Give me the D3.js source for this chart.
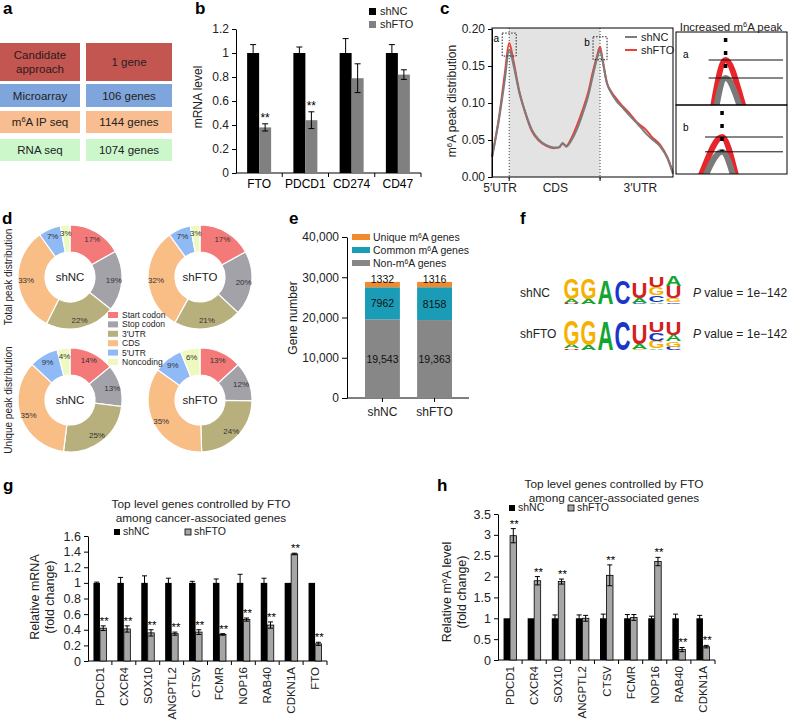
<!DOCTYPE html>
<html>
<head>
<meta charset="utf-8">
<script src="https://cdn.jsdelivr.net/npm/d3@7"></script>
<style>
body { margin: 0; background: #fff; }
svg { font-family: "Liberation Sans", Arial, Helvetica, sans-serif; }
</style>
</head>
<body>
<svg id="fig" width="788" height="722"></svg>
<script>
// ---- data ----
// panel a
const aMethods = ["Candidate approach", "Microarray", "m^6A IP seq", "RNA seq"];
const aCounts = ["1 gene", "106 genes", "1144 genes", "1074 genes"];
const aColors = ["#c45652", "#7ea5dc", "#f8bd90", "#cbf7cb"];

// panel b
const bGenes = ["FTO", "PDCD1", "CD274", "CD47"];
const bNC = [1, 1, 1, 1];
const bNCerr = [0.07, 0.05, 0.12, 0.07];
const bFTO = [0.38, 0.44, 0.79, 0.82];
const bFTOerr = [0.03, 0.07, 0.12, 0.04];
const bSig = ["**", "**", "", ""];

// panel c (metagene position in % of plotted width)
const cPos = [0, 4, 7, 9.5, 12, 15, 18, 22, 26, 30, 34, 37, 39, 41, 44, 47, 50, 53, 56, 58, 59.7, 61, 63.5, 66, 69, 72, 76, 80, 85, 88, 93, 97, 100];
const cNC = [0.027, 0.08, 0.13, 0.172, 0.15, 0.115, 0.09, 0.064, 0.05, 0.043, 0.04, 0.04, 0.046, 0.041, 0.05, 0.065, 0.085, 0.108, 0.14, 0.16, 0.172, 0.158, 0.127, 0.113, 0.102, 0.094, 0.083, 0.073, 0.059, 0.052, 0.041, 0.025, 0.004];
const cFTO = [0.027, 0.083, 0.138, 0.181, 0.155, 0.117, 0.09, 0.062, 0.049, 0.042, 0.039, 0.04, 0.045, 0.042, 0.053, 0.07, 0.09, 0.113, 0.145, 0.163, 0.176, 0.16, 0.127, 0.115, 0.105, 0.096, 0.086, 0.074, 0.064, 0.055, 0.043, 0.026, 0.006];
const cMarks = [9.5, 59.7];
const cRegions = ["5′UTR", "CDS", "3′UTR"];
const cRegionPos = [4.5, 35, 82];

// panel d
const dCats = ["Start codon", "Stop codon", "3′UTR", "CDS", "5′UTR", "Noncoding"];
const dColors = ["#f47a7a", "#a2a2a8", "#b8b07c", "#f9bd86", "#8fbaf5", "#eef9c0"];
const dTotalNC = [17, 19, 22, 33, 7, 3];
const dTotalFTO = [17, 20, 21, 32, 7, 3];
const dUniqueNC = [14, 13, 25, 35, 9, 4];
const dUniqueFTO = [13, 12, 24, 35, 9, 6];

// panel e
const eGroups = ["shNC", "shFTO"];
const eNon = [19543, 19363];
const eCommon = [7962, 8158];
const eUnique = [1332, 1316];
const eSeries = ["Unique m^6A genes", "Common m^6A genes", "Non-m^6A genes"];
const eColors = ["#f08a2c", "#1b9cb6", "#878787"];

// panel f: logo stacks, bottom to top, [letter, bits]
const fNC = [
  [["U", 0.05], ["A", 0.28], ["G", 1.4]],
  [["A", 0.3], ["G", 1.4]],
  [["A", 1.55]],
  [["C", 1.55]],
  [["C", 0.05], ["A", 0.33], ["U", 1.05]],
  [["A", 0.1], ["C", 0.45], ["G", 0.55], ["U", 0.67]],
  [["C", 0.1], ["G", 0.27], ["U", 0.78], ["A", 0.67]]
];
const fFTO = [
  [["U", 0.1], ["A", 0.25], ["G", 1.65]],
  [["A", 0.3], ["G", 1.65]],
  [["A", 1.85]],
  [["C", 1.85]],
  [["G", 0.05], ["A", 0.33], ["U", 1.3]],
  [["A", 0.1], ["G", 0.5], ["C", 0.55], ["U", 0.67]],
  [["C", 0.22], ["G", 0.33], ["A", 0.45], ["U", 0.87]]
];
const logoColors = { A: "#13a532", C: "#1a36c8", G: "#f6b100", U: "#d41f1f" };

// panel g
const gGenes = ["PDCD1", "CXCR4", "SOX10", "ANGPTL2", "CTSV", "FCMR", "NOP16", "RAB40", "CDKN1A", "FTO"];
const gNC = [1, 1, 1, 1, 1, 1, 1, 1, 1, 1];
const gNCerr = [0.01, 0.07, 0.09, 0.06, 0.02, 0.05, 0.11, 0.06, 0, 0];
const gFTO = [0.42, 0.41, 0.36, 0.35, 0.37, 0.34, 0.53, 0.46, 1.37, 0.22];
const gFTOerr = [0.03, 0.04, 0.04, 0.02, 0.03, 0.01, 0.02, 0.04, 0.01, 0.02];
const gSig = ["**", "**", "**", "**", "**", "**", "**", "**", "**", "**"];

// panel h
const hGenes = ["PDCD1", "CXCR4", "SOX10", "ANGPTL2", "CTSV", "FCMR", "NOP16", "RAB40", "CDKN1A"];
const hNC = [1, 1, 1, 1, 1, 1, 1, 1, 1];
const hNCerr = [0, 0, 0.08, 0.08, 0.1, 0.09, 0.05, 0.1, 0.07];
const hFTO = [2.98, 1.9, 1.88, 1.0, 2.03, 1.02, 2.36, 0.25, 0.32];
const hFTOerr = [0.17, 0.1, 0.06, 0.07, 0.25, 0.07, 0.1, 0.05, 0.03];
const hSig = ["**", "**", "**", "", "**", "", "**", "**", "**"];

// ---- drawing ----
const svg = d3.select("#fig");

function panelLabel(t, x, y) {
    svg.append("text").attr("x", x).attr("y", y)
        .attr("font-size", 17).attr("font-weight", "bold").text(t);
}

// "^6" becomes a superscript 6
function richText(sel, str) {
    str.split(/(\^6)/).forEach(p => {
        if (p === "^6") sel.append("tspan").attr("baseline-shift", "super").attr("font-size", "65%").text("6");
        else if (p) sel.append("tspan").text(p);
    });
    return sel;
}

function styleAxis(g, fs) {
    g.attr("font-family", null).attr("font-size", fs);
    g.selectAll("text").attr("fill", "#222");
}

// ===== panel a =====
panelLabel("a", 3, 14);
const aTops = [43, 84, 111, 139];
const aHeights = [38, 23, 22, 22];
aMethods.forEach((m, i) => {
    svg.append("rect").attr("x", 0).attr("y", aTops[i]).attr("width", 80).attr("height", aHeights[i]).attr("fill", aColors[i]);
    svg.append("rect").attr("x", 86).attr("y", aTops[i]).attr("width", 86).attr("height", aHeights[i]).attr("fill", aColors[i]);
    const cy = aTops[i] + aHeights[i] / 2;
    if (i === 0) {
        m.split(" ").forEach((w, j) => {
            svg.append("text").attr("x", 40).attr("y", cy - 3 + j * 14).attr("text-anchor", "middle")
                .attr("font-size", 11.5).attr("fill", "#2a1a1a").text(w);
        });
    } else {
        richText(svg.append("text").attr("x", 40).attr("y", cy + 4).attr("text-anchor", "middle")
            .attr("font-size", 11.5).attr("fill", "#222"), m);
    }
    svg.append("text").attr("x", 129).attr("y", cy + 4).attr("text-anchor", "middle")
        .attr("font-size", 11.5).attr("fill", "#222").text(aCounts[i]);
});

// ===== panel b =====
panelLabel("b", 195, 14);
{
    const x = d3.scaleBand().domain(bGenes).range([236, 421]);
    const y = d3.scaleLinear().domain([0, 1.2]).range([173, 29]);
    const bw = 12;
    const ya = svg.append("g").attr("transform", "translate(236,0)")
        .call(d3.axisLeft(y).tickValues([0, 0.2, 0.4, 0.6, 0.8, 1, 1.2]).tickFormat(d3.format("~g")).tickSize(4).tickSizeOuter(0));
    styleAxis(ya, 12);
    svg.append("line").attr("x1", 236).attr("x2", 421).attr("y1", y(0)).attr("y2", y(0)).attr("stroke", "#000");
    bGenes.forEach((gname, i) => {
        const c = x(gname) + x.bandwidth() / 2;
        svg.append("line").attr("x1", x(gname) + x.bandwidth()).attr("x2", x(gname) + x.bandwidth())
            .attr("y1", y(0)).attr("y2", y(0) + 4).attr("stroke", "#000");
        svg.append("rect").attr("x", c - bw).attr("y", y(bNC[i])).attr("width", bw).attr("height", y(0) - y(bNC[i])).attr("fill", "#000");
        svg.append("rect").attr("x", c).attr("y", y(bFTO[i])).attr("width", bw).attr("height", y(0) - y(bFTO[i])).attr("fill", "#808080");
        [[c - bw / 2, bNC[i], bNCerr[i]], [c + bw / 2, bFTO[i], bFTOerr[i]]].forEach(([cx, v, e]) => {
            svg.append("line").attr("x1", cx).attr("x2", cx).attr("y1", y(v - e)).attr("y2", y(v + e)).attr("stroke", "#000");
            svg.append("line").attr("x1", cx - 3).attr("x2", cx + 3).attr("y1", y(v + e)).attr("y2", y(v + e)).attr("stroke", "#000");
            svg.append("line").attr("x1", cx - 3).attr("x2", cx + 3).attr("y1", y(v - e)).attr("y2", y(v - e)).attr("stroke", "#000");
        });
        if (bSig[i]) svg.append("text").attr("x", c + bw / 2).attr("y", y(bFTO[i] + bFTOerr[i]) - 2)
            .attr("text-anchor", "middle").attr("font-size", 12).text(bSig[i]);
        svg.append("text").attr("x", c).attr("y", 188).attr("text-anchor", "middle").attr("font-size", 12).text(gname);
    });
    svg.append("text").attr("transform", "translate(202,97) rotate(-90)").attr("text-anchor", "middle")
        .attr("font-size", 12).attr("fill", "#222").text("mRNA level");
    [["shNC", "#000"], ["shFTO", "#808080"]].forEach(([t, col], i) => {
        svg.append("rect").attr("x", 369).attr("y", 8 + i * 13).attr("width", 7).attr("height", 7).attr("fill", col);
        svg.append("text").attr("x", 380).attr("y", 15 + i * 13).attr("font-size", 11).attr("fill", "#222").text(t);
    });
}

// ===== panel c =====
panelLabel("c", 440, 14);
{
    const x = d3.scaleLinear().domain([0, 100]).range([492, 673]);
    const y = d3.scaleLinear().domain([0, 0.2]).range([177, 29]);
    svg.append("rect").attr("x", x(cMarks[0])).attr("y", 28).attr("width", x(cMarks[1]) - x(cMarks[0]))
        .attr("height", y(0) - 28).attr("fill", "#e3e3e3");
    cMarks.forEach(m => {
        svg.append("line").attr("x1", x(m)).attr("x2", x(m)).attr("y1", 28).attr("y2", y(0) + 4)
            .attr("stroke", "#444").attr("stroke-dasharray", "1,2");
        svg.append("line").attr("x1", x(m)).attr("x2", x(m)).attr("y1", y(0)).attr("y2", y(0) + 4).attr("stroke", "#000");
    });
    const line = (vals, xs, ys) => d3.line().curve(d3.curveMonotoneX).x((d, i) => xs(cPos[i])).y(d => ys(d))(vals);
    svg.append("path").attr("d", line(cFTO, x, y)).attr("fill", "none").attr("stroke", "#e8423a").attr("stroke-width", 2);
    svg.append("path").attr("d", line(cNC, x, y)).attr("fill", "none").attr("stroke", "#7c7c7c").attr("stroke-width", 2);
    svg.append("rect").attr("x", 492).attr("y", 28).attr("width", 181).attr("height", y(0) - 28)
        .attr("fill", "none").attr("stroke", "#000");
    const ya = svg.append("g").attr("transform", "translate(492,0)")
        .call(d3.axisLeft(y).tickValues([0, 0.05, 0.1, 0.15, 0.2]).tickFormat(d3.format(".2f")).tickSize(4).tickSizeOuter(0));
    styleAxis(ya, 12);
    cRegions.forEach((r, i) => {
        svg.append("text").attr("x", x(cRegionPos[i])).attr("y", 192).attr("text-anchor", "middle")
            .attr("font-size", 12).attr("fill", "#222").text(r);
    });
    richText(svg.append("text").attr("transform", "translate(456,101) rotate(-90)").attr("text-anchor", "middle")
        .attr("font-size", 12).attr("fill", "#222"), "m^6A peak distribution");
    // dotted boxes around peaks
    [["a", cMarks[0], d3.max(cFTO.slice(0, 8))], ["b", cMarks[1], d3.max(cFTO.slice(15))]].forEach(([lab, m, v]) => {
        svg.append("rect").attr("x", x(m) - 7).attr("y", y(v) - 10).attr("width", 14).attr("height", 23)
            .attr("fill", "none").attr("stroke", "#222").attr("stroke-dasharray", "1.5,1.5");
        svg.append("text").attr("x", x(m) - 13).attr("y", y(v) - 1).attr("text-anchor", "middle").attr("font-size", 10).text(lab);
    });
    [["shNC", "#7c7c7c"], ["shFTO", "#e8423a"]].forEach(([t, col], i) => {
        svg.append("line").attr("x1", 625).attr("x2", 637).attr("y1", 37 + i * 13).attr("y2", 37 + i * 13)
            .attr("stroke", col).attr("stroke-width", 2);
        svg.append("text").attr("x", 641).attr("y", 41 + i * 13).attr("font-size", 11).attr("fill", "#222").text(t);
    });

    // inset zooms
    richText(svg.append("text").attr("x", 731).attr("y", 31).attr("text-anchor", "middle")
        .attr("font-size", 11.5).attr("fill", "#222"), "Increased m^6A peak");
    const insets = [
        { lab: "a", top: 32, h: 73, xd: [3.2, 17.3], yd: [0.1585, 0.181], ytop: 60, peak: cMarks[0], lo: 0, hi: 12 },
        { lab: "b", top: 105, h: 69, xd: [56.63, 64.03], yd: [0.166, 0.176], ytop: 137, peak: cMarks[1], lo: 13, hi: 33 }
    ];
    const defs = svg.append("defs");
    insets.forEach((ins, k) => {
        const xs = d3.scaleLinear().domain(ins.xd).range([676, 787]);
        const ys = d3.scaleLinear().domain(ins.yd).range([ins.top + ins.h, ins.ytop]);
        defs.append("clipPath").attr("id", "clip" + k).append("rect")
            .attr("x", 676).attr("y", ins.top).attr("width", 111).attr("height", ins.h);
        const gi = svg.append("g").attr("clip-path", `url(#clip${k})`);
        gi.append("path").attr("d", line(cFTO, xs, ys)).attr("fill", "none").attr("stroke", "#e8252a").attr("stroke-width", 6);
        gi.append("path").attr("d", line(cNC, xs, ys)).attr("fill", "none").attr("stroke", "#7a7a7a").attr("stroke-width", 6);
        const maxR = d3.max(cFTO.slice(ins.lo, ins.hi)), maxG = d3.max(cNC.slice(ins.lo, ins.hi));
        [maxR, maxG].forEach(v => {
            gi.append("line").attr("x1", xs(ins.peak) - 17).attr("x2", 783).attr("y1", ys(v)).attr("y2", ys(v))
                .attr("stroke", "#111").attr("stroke-width", 1);
        });
        gi.append("line").attr("x1", xs(ins.peak)).attr("x2", xs(ins.peak)).attr("y1", ins.top + 6).attr("y2", ys(maxR) + 14)
            .attr("stroke", "#000").attr("stroke-width", 3.5).attr("stroke-dasharray", "4,9");
        svg.append("rect").attr("x", 676).attr("y", ins.top).attr("width", 111).attr("height", ins.h)
            .attr("fill", "none").attr("stroke", "#000");
        svg.append("text").attr("x", 683).attr("y", ins.top + 26).attr("font-size", 10).text(ins.lab);
    });
}

// ===== panel d =====
panelLabel("d", 2, 224);
{
    const pie = d3.pie().sort(null).value(d => d);
    const arc = d3.arc().innerRadius(25).outerRadius(52);
    const labelArc = d3.arc().innerRadius(44).outerRadius(44);
    const donuts = [
        [dTotalNC, 70, 277, "shNC"], [dTotalFTO, 200, 277, "shFTO"],
        [dUniqueNC, 70, 400, "shNC"], [dUniqueFTO, 200, 400, "shFTO"]
    ];
    donuts.forEach(([vals, cx, cy, name]) => {
        const g = svg.append("g").attr("transform", `translate(${cx},${cy})`);
        g.selectAll("path").data(pie(vals)).join("path").attr("d", arc)
            .attr("fill", (d, i) => dColors[i]).attr("stroke", "#fff").attr("stroke-width", 1.2);
        g.selectAll("text.pct").data(pie(vals)).join("text").attr("class", "pct")
            .attr("transform", d => `translate(${labelArc.centroid(d)})`).attr("dy", "0.35em")
            .attr("text-anchor", "middle").attr("font-size", 8).attr("fill", "#333").text(d => d.data + "%");
        g.append("text").attr("dy", "0.35em").attr("text-anchor", "middle").attr("font-size", 11.5).attr("fill", "#222").text(name);
    });
    svg.append("text").attr("transform", "translate(12,277) rotate(-90)").attr("text-anchor", "middle")
        .attr("font-size", 10).attr("fill", "#222").text("Total peak distribution");
    svg.append("text").attr("transform", "translate(12,400) rotate(-90)").attr("text-anchor", "middle")
        .attr("font-size", 10).attr("fill", "#222").text("Unique peak distribution");
    dCats.forEach((c, i) => {
        svg.append("rect").attr("x", 108).attr("y", 312 + i * 9.4).attr("width", 10).attr("height", 6).attr("fill", dColors[i]);
        svg.append("text").attr("x", 122).attr("y", 318 + i * 9.4).attr("font-size", 8.5).attr("fill", "#222").text(c);
    });
}

// ===== panel e =====
panelLabel("e", 289, 224);
{
    const x = d3.scaleBand().domain(eGroups).range([365, 452]).paddingInner(0.33);
    const y = d3.scaleLinear().domain([0, 40000]).range([398, 237]);
    const ya = svg.append("g").attr("transform", "translate(347,0)")
        .call(d3.axisLeft(y).tickValues([0, 10000, 20000, 30000, 40000]).tickFormat(d3.format(",")).tickSize(5).tickSizeOuter(0));
    styleAxis(ya, 12);
    svg.append("line").attr("x1", 347).attr("x2", 469).attr("y1", y(0)).attr("y2", y(0)).attr("stroke", "#000");
    eGroups.forEach((gname, i) => {
        const x0 = x(gname), w = x.bandwidth(), c = x0 + w / 2;
        const segs = [eNon[i], eCommon[i], eUnique[i]];
        const cols = [eColors[2], eColors[1], eColors[0]];
        let base = 0;
        segs.forEach((v, k) => {
            svg.append("rect").attr("x", x0).attr("y", y(base + v)).attr("width", w).attr("height", y(base) - y(base + v)).attr("fill", cols[k]);
            const ty = k < 2 ? (y(base) + y(base + v)) / 2 + 4 : y(base + v) + 1;
            svg.append("text").attr("x", c).attr("y", ty).attr("text-anchor", "middle").attr("font-size", 10.5)
                .attr("fill", "#111").text(k === 0 ? d3.format(",")(v) : v);
            base += v;
        });
        svg.append("line").attr("x1", c).attr("x2", c).attr("y1", y(0)).attr("y2", y(0) + 4).attr("stroke", "#000");
        svg.append("text").attr("x", c).attr("y", 416).attr("text-anchor", "middle").attr("font-size", 12).attr("fill", "#222").text(gname);
    });
    svg.append("text").attr("transform", "translate(297,318) rotate(-90)").attr("text-anchor", "middle")
        .attr("font-size", 12).attr("fill", "#222").text("Gene number");
    eSeries.forEach((s, i) => {
        svg.append("rect").attr("x", 352).attr("y", 234 + i * 13).attr("width", 18).attr("height", 6).attr("fill", eColors[i]);
        richText(svg.append("text").attr("x", 373).attr("y", 241 + i * 13).attr("font-size", 10.5).attr("fill", "#222"), s);
    });
}

// ===== panel f =====
panelLabel("f", 520, 224);
{
    const xl = d3.scaleBand().domain(d3.range(7)).range([563, 682]);
    const hl = d3.scaleLinear().domain([0, 2]).range([0, 31]);
    function drawLogo(stacks, yBase) {
        stacks.forEach((stack, i) => {
            let yb = yBase;
            stack.forEach(([letter, bits]) => {
                const h = hl(bits);
                svg.append("text").attr("x", xl(i) + 0.5).attr("y", yb)
                    .attr("font-size", h / 0.72).attr("font-weight", "bold")
                    .attr("textLength", xl.bandwidth() - 1).attr("lengthAdjust", "spacingAndGlyphs")
                    .attr("fill", logoColors[letter]).text(letter);
                yb -= h;
            });
        });
    }
    drawLogo(fNC, 304);
    drawLogo(fFTO, 350);
    [["shNC", 297], ["shFTO", 338]].forEach(([t, yy]) => {
        svg.append("text").attr("x", 520).attr("y", yy).attr("font-size", 12).attr("fill", "#222").text(t);
        const pt = svg.append("text").attr("x", 693).attr("y", yy).attr("font-size", 12).attr("fill", "#222");
        pt.append("tspan").attr("font-style", "italic").text("P");
        pt.append("tspan").text(" value = 1e\u2212142");
    });
}

// ===== panels g and h =====
function groupedPanel(o) {
    const x = d3.scaleBand().domain(o.genes).range(o.xr);
    const y = d3.scaleLinear().domain(o.yd).range(o.yr);
    const bw = 6.5;
    const ya = svg.append("g").attr("transform", `translate(${o.xr[0]},0)`)
        .call(d3.axisLeft(y).tickValues(o.ticks).tickFormat(d3.format("~g")).tickSize(4).tickSizeOuter(0));
    styleAxis(ya, 12.5);
    svg.append("line").attr("x1", o.xr[0]).attr("x2", o.xr[1]).attr("y1", y(0)).attr("y2", y(0)).attr("stroke", "#000");
    o.genes.forEach((gname, i) => {
        const c = x(gname) + x.bandwidth() / 2;
        svg.append("line").attr("x1", x(gname) + x.bandwidth()).attr("x2", x(gname) + x.bandwidth())
            .attr("y1", y(0)).attr("y2", y(0) + 4).attr("stroke", "#000");
        svg.append("rect").attr("x", c - bw).attr("y", y(o.nc[i])).attr("width", bw).attr("height", y(0) - y(o.nc[i])).attr("fill", "#000");
        svg.append("rect").attr("x", c).attr("y", y(o.fto[i])).attr("width", bw).attr("height", y(0) - y(o.fto[i]))
            .attr("fill", "#a6a6a6").attr("stroke", "#000").attr("stroke-width", 0.8);
        [[c - bw / 2, o.nc[i], o.ncErr[i]], [c + bw / 2, o.fto[i], o.ftoErr[i]]].forEach(([cx, v, e]) => {
            if (e <= 0) return;
            svg.append("line").attr("x1", cx).attr("x2", cx).attr("y1", y(v - e)).attr("y2", y(v + e)).attr("stroke", "#000");
            svg.append("line").attr("x1", cx - 2.5).attr("x2", cx + 2.5).attr("y1", y(v + e)).attr("y2", y(v + e)).attr("stroke", "#000");
            svg.append("line").attr("x1", cx - 2.5).attr("x2", cx + 2.5).attr("y1", y(v - e)).attr("y2", y(v - e)).attr("stroke", "#000");
        });
        if (o.sig[i]) svg.append("text").attr("x", c + bw / 2 + 1).attr("y", y(o.fto[i] + o.ftoErr[i]) - 1)
            .attr("text-anchor", "middle").attr("font-size", 11.5).text(o.sig[i]);
        svg.append("text").attr("transform", `translate(${c + 4},${y(0) + 6}) rotate(-90)`)
            .attr("text-anchor", "end").attr("font-size", 11.5).attr("fill", "#222").text(gname);
    });
    o.title.forEach((t, i) => {
        svg.append("text").attr("x", o.titleX).attr("y", o.titleY + i * 14).attr("text-anchor", "middle")
            .attr("font-size", 11.8).attr("fill", "#222").text(t);
    });
    o.ylabel.forEach((t, i) => {
        richText(svg.append("text").attr("transform", `translate(${o.ylabX + i * 15},${o.ylabY}) rotate(-90)`)
            .attr("text-anchor", "middle").attr("font-size", 12.5).attr("fill", "#222"), t);
    });
    svg.append("rect").attr("x", o.legX[0]).attr("y", o.legY - 6).attr("width", 6).attr("height", 6).attr("fill", "#000");
    svg.append("text").attr("x", o.legX[0] + 9).attr("y", o.legY).attr("font-size", 10.5).attr("fill", "#222").text("shNC");
    svg.append("rect").attr("x", o.legX[1]).attr("y", o.legY - 6).attr("width", 6).attr("height", 6)
        .attr("fill", "#a6a6a6").attr("stroke", "#000").attr("stroke-width", 0.8);
    svg.append("text").attr("x", o.legX[1] + 9).attr("y", o.legY).attr("font-size", 10.5).attr("fill", "#222").text("shFTO");
}

panelLabel("g", 3, 491);
groupedPanel({
    genes: gGenes, nc: gNC, ncErr: gNCerr, fto: gFTO, ftoErr: gFTOerr, sig: gSig,
    xr: [88, 327], yd: [0, 1.6], yr: [661, 536], ticks: [0, 0.2, 0.4, 0.6, 0.8, 1, 1.2, 1.4, 1.6],
    title: ["Top level genes controlled by FTO", "among cancer-associated genes"], titleX: 201, titleY: 508,
    ylabel: ["Relative mRNA", "(fold change)"], ylabX: 39, ylabY: 597,
    legX: [114, 185], legY: 535
});

panelLabel("h", 437, 491);
groupedPanel({
    genes: hGenes, nc: hNC, ncErr: hNCerr, fto: hFTO, ftoErr: hFTOerr, sig: hSig,
    xr: [498, 715], yd: [0, 3.5], yr: [660, 514], ticks: [0, 0.5, 1, 1.5, 2, 2.5, 3, 3.5],
    title: ["Top level genes controlled by FTO", "among cancer-associated genes"], titleX: 614, titleY: 488,
    ylabel: ["Relative m^6A level", "(fold change)"], ylabX: 451, ylabY: 592,
    legX: [509, 568], legY: 511
});
</script>
</body>
</html>
